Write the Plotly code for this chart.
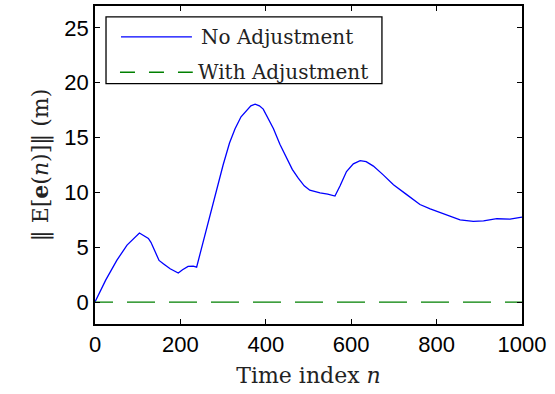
import plotly.graph_objects as go

# Data
n_no_adj = [0, 25, 51, 75, 104, 113, 125, 131, 140, 150, 160, 176, 195, 205, 218, 230, 238,
            260, 277, 300, 315, 328, 342, 355, 365, 375, 385, 394, 405, 418, 433, 449, 462,
            476, 490, 503, 515, 527, 545, 562, 574, 589, 605, 621, 635, 652, 675, 699, 730,
            761, 785, 808, 830, 855, 886, 910, 941, 972, 1000]
err_no_adj = [0, 2.0, 3.8, 5.2, 6.3, 6.1, 5.8, 5.45, 4.7, 3.8, 3.5, 3.04, 2.65, 2.95, 3.25,
              3.28, 3.19, 6.5, 9.2, 12.5, 14.5, 15.8, 16.9, 17.5, 17.9, 18.05, 17.9, 17.6,
              16.8, 15.8, 14.4, 13.1, 12.1, 11.3, 10.6, 10.2, 10.05, 9.96, 9.85, 9.67, 10.6,
              11.9, 12.6, 12.9, 12.8, 12.4, 11.6, 10.7, 9.8, 8.9, 8.5, 8.16, 7.8, 7.5, 7.35,
              7.4, 7.6, 7.56, 7.75]
n_adj = [0, 1000]
err_adj = [0, 0]

x_ticks = [0, 200, 400, 600, 800, 1000]
y_ticks = [0, 5, 10, 15, 20, 25]

legend_names = ["No Adjustment", "With Adjustment"]

BLUE = "#0000ff"
GREEN = "#008000"
SERIF = "DejaVu Serif"
SANS = "Liberation Sans"

# dash for the main green line with a phase offset (first dash shortened)
main_dash = "18px,14px," + ",".join(["28px,14px"] * 12)

fig = go.Figure()
fig.add_trace(go.Scatter(x=n_no_adj, y=err_no_adj, mode="lines", name=legend_names[0],
                         line=dict(color=BLUE, width=1.3), showlegend=False))
fig.add_trace(go.Scatter(x=n_adj, y=err_adj, mode="lines", name=legend_names[1],
                         line=dict(color=GREEN, width=1.3, dash=main_dash),
                         showlegend=False))

axis_common = dict(showline=True, linecolor="black", linewidth=1.5, mirror="ticks",
                   ticks="inside", ticklen=5, tickwidth=1, tickcolor="black",
                   showgrid=False, zeroline=False,
                   tickfont=dict(family=SANS, size=22, color="black"))

fig.update_xaxes(range=[0, 1000], tickvals=x_ticks,
                 title=dict(text="Time index <i>n</i>", font=dict(family=SERIF, size=22, color="#222"),
                            standoff=11),
                 **axis_common)
fig.update_yaxes(range=[-2, 27], tickvals=y_ticks,
                 title=dict(text="‖ E[<b>e</b>(<i>n</i>)]‖ (m)", font=dict(family=SERIF, size=22, color="#222"),
                            standoff=10),
                 **axis_common)

# Manual legend (box, samples, labels) in paper coordinates
fig.add_shape(type="rect", xref="paper", yref="paper", x0=0.0258, x1=0.672, y0=0.756, y1=0.9656,
              line=dict(color="black", width=1.3), fillcolor="white", layer="above")
fig.add_shape(type="line", xref="paper", yref="paper", x0=0.0609, x1=0.227, y0=0.903, y1=0.903,
              line=dict(color=BLUE, width=1.3), layer="above")
fig.add_shape(type="line", xref="paper", yref="paper", x0=0.0585, x1=0.229, y0=0.7916, y1=0.7916,
              line=dict(color=GREEN, width=1.3, dash="15px,14px"), layer="above")
fig.add_annotation(xref="paper", yref="paper", x=0.243, y=0.903, xanchor="left", yanchor="middle",
                   text=legend_names[0], showarrow=False,
                   font=dict(family=SERIF, size=20, color="#222"))
fig.add_annotation(xref="paper", yref="paper", x=0.237, y=0.7916, xanchor="left", yanchor="middle",
                   text=legend_names[1], showarrow=False,
                   font=dict(family=SERIF, size=20, color="#222"))

fig.update_layout(width=555, height=394, margin=dict(l=95, r=33, t=4, b=70),
                  plot_bgcolor="white", paper_bgcolor="white", showlegend=False)

fig.write_html("out.html", config={"displayModeBar": False},
               post_script="document.body.style.margin='0';")
